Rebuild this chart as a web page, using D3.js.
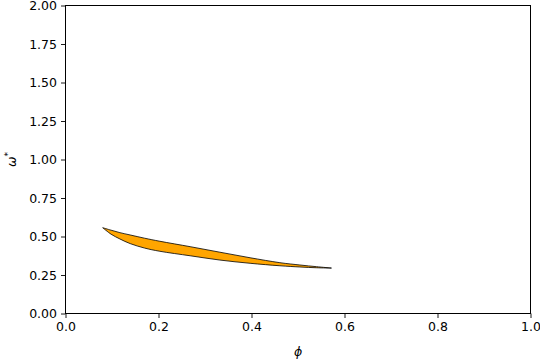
<!DOCTYPE html>
<html><head><meta charset="utf-8">
<script src="https://cdn.jsdelivr.net/npm/d3@7"></script>
<style>body{margin:0;background:#fff}svg{display:block}text{font-family:"DejaVu Sans",sans-serif}</style>
</head><body>
<svg id="c" width="540" height="360"></svg>
<script>
const phiValues = [0.080, 0.098, 0.117, 0.139, 0.170, 0.203, 0.268, 0.332, 0.397, 0.461, 0.504, 0.540, 0.572];
const upperOmega = [0.557, 0.541, 0.525, 0.510, 0.489, 0.469, 0.434, 0.398, 0.362, 0.330, 0.315, 0.304, 0.295];
const lowerOmega = [0.557, 0.515, 0.484, 0.454, 0.425, 0.404, 0.375, 0.347, 0.326, 0.310, 0.302, 0.297, 0.295];
const xTicks = [0, 0.2, 0.4, 0.6, 0.8, 1.0];
const yTicks = [0, 0.25, 0.5, 0.75, 1.0, 1.25, 1.5, 1.75, 2.0];

const L = 65.5, R = 530.5, T = 5.5, B = 313.5;
const svg = d3.select("#c");
const x = d3.scaleLinear().domain([0, 1]).range([L, R]);
const y = d3.scaleLinear().domain([0, 2]).range([B, T]);

const rows = phiValues.map((p, i) => [p, upperOmega[i], lowerOmega[i]]);
const crv = d3.curveCatmullRom.alpha(0.5);
const area = d3.area().x(d => x(d[0])).y0(d => y(d[2])).y1(d => y(d[1])).curve(crv);
svg.append("path").attr("d", area(rows)).attr("fill", "orange").attr("stroke", "none");
const lnU = d3.line().x(d => x(d[0])).y(d => y(d[1])).curve(crv);
const lnL = d3.line().x(d => x(d[0])).y(d => y(d[2])).curve(crv);
svg.append("path").attr("d", lnU(rows)).attr("fill", "none").attr("stroke", "#000").attr("stroke-width", 0.8);
svg.append("path").attr("d", lnL(rows)).attr("fill", "none").attr("stroke", "#000").attr("stroke-width", 0.8);

const fmtX = d3.format(".1f"), fmtY = d3.format(".2f");
const xa = svg.append("g").attr("transform", `translate(0,${B})`)
  .call(d3.axisBottom(x).tickValues(xTicks).tickFormat(fmtX).tickSize(4.5).tickPadding(4));
const ya = svg.append("g").attr("transform", `translate(${L},0)`)
  .call(d3.axisLeft(y).tickValues(yTicks).tickFormat(fmtY).tickSize(4.5).tickPadding(4));
[xa, ya].forEach(a => {
  a.select(".domain").remove();
  a.selectAll("line").attr("stroke", "#000").attr("stroke-width", 0.9);
  a.selectAll("text").attr("font-family", "DejaVu Sans").attr("font-size", "12.5px").attr("fill", "#000");
});
svg.append("rect").attr("x", L).attr("y", T).attr("width", R - L).attr("height", B - T)
  .attr("fill", "none").attr("stroke", "#000").attr("stroke-width", 1);

svg.append("text").attr("x", (L + R) / 2).attr("y", 356).attr("text-anchor", "middle")
  .attr("font-size", "12.5px").attr("font-style", "italic").text("ϕ");
svg.append("text").attr("transform", `translate(16,${(T + B) / 2}) rotate(-90)`).attr("text-anchor", "middle")
  .attr("font-size", "12.5px").html('<tspan font-style="italic">ω</tspan><tspan dy="-5" font-size="9px">*</tspan>');
</script>
</body></html>
